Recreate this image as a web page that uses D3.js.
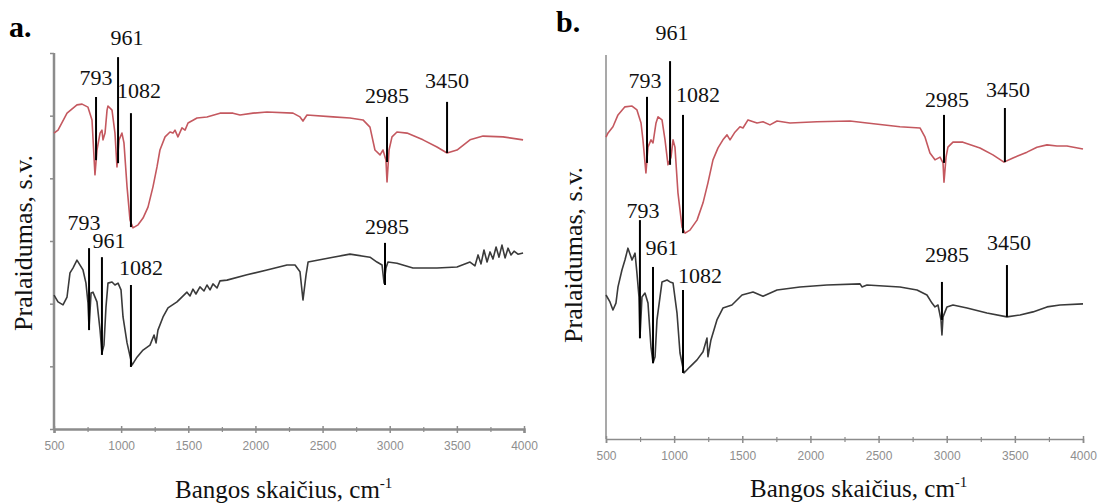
<!DOCTYPE html>
<html>
<head>
<meta charset="utf-8">
<script src="https://cdn.jsdelivr.net/npm/d3@7"></script>
<style>
  body { margin: 0; background: #fff; }
  svg { display: block; }
</style>
</head>
<body>
<svg id="chart" width="1102" height="504"></svg>
<script>
// spectra: [wavenumber cm-1, transmittance a.u.]
const redA = [[500,78.7],[530,79.5],[597,84.0],[671,86.2],[709,86.4],[753,85.6],[783,82.2],[805,67.6],[820,74.2],[843,78.7],[857,79.5],[865,76.9],[880,78.7],[895,84.8],[902,85.9],[932,84.8],[954,78.7],[969,69.7],[984,76.9],[1006,78.7],[1021,76.1],[1044,64.4],[1066,55.6],[1088,53.5],[1126,54.3],[1163,56.1],[1200,59.0],[1237,64.4],[1267,69.7],[1289,74.2],[1327,77.7],[1364,79.0],[1386,78.7],[1401,79.5],[1423,77.7],[1453,80.1],[1476,79.5],[1498,81.4],[1565,82.7],[1639,83.0],[1736,84.0],[1833,84.0],[1885,83.5],[1982,84.0],[2086,84.3],[2280,84.0],[2332,83.0],[2354,81.9],[2384,83.5],[2578,83.0],[2704,82.7],[2801,82.2],[2853,80.3],[2890,74.2],[2928,72.9],[2950,74.2],[2972,71.5],[2980,65.7],[2995,74.2],[3017,77.7],[3054,79.0],[3129,78.7],[3248,76.9],[3352,75.0],[3427,73.4],[3501,74.2],[3598,76.9],[3695,77.9],[3844,77.7],[3993,76.9]];

const blackA = [[500,35.6],[530,33.8],[567,33.0],[597,35.1],[619,41.5],[641,42.8],[671,44.9],[694,43.6],[716,42.3],[738,38.8],[753,33.5],[761,26.9],[776,36.2],[790,36.4],[820,33.8],[843,26.3],[857,20.2],[872,22.3],[887,32.4],[902,38.8],[932,39.1],[954,38.3],[977,38.8],[999,37.0],[1014,29.8],[1044,22.9],[1081,17.0],[1118,19.1],[1163,21.0],[1215,22.3],[1245,25.0],[1260,22.9],[1274,26.3],[1312,29.8],[1349,32.2],[1416,33.8],[1490,36.4],[1513,35.4],[1535,37.2],[1557,35.9],[1587,37.8],[1617,36.7],[1639,38.3],[1662,37.0],[1684,38.6],[1714,37.5],[1736,39.4],[1788,39.6],[1937,41.0],[2086,42.3],[2235,43.6],[2295,43.6],[2332,41.8],[2354,34.3],[2377,41.0],[2392,44.4],[2578,45.7],[2704,46.5],[2853,45.7],[2905,44.4],[2943,43.6],[2958,38.8],[2972,42.8],[2987,44.4],[3054,44.1],[3173,42.8],[3352,42.8],[3501,43.1],[3598,44.4],[3635,43.4],[3658,46.3],[3680,43.9],[3702,47.6],[3725,44.4],[3747,47.1],[3769,45.2],[3792,48.4],[3814,45.7],[3836,48.9],[3859,45.5],[3881,48.1],[3903,46.3],[3926,47.3],[3955,46.5],[3993,46.8]];

const redB = [[500,78.6],[515,79.7],[551,81.3],[588,84.4],[639,86.5],[691,86.7],[727,85.7],[757,82.3],[771,77.9],[793,69.3],[808,76.0],[830,77.9],[845,77.1],[867,82.3],[882,83.9],[911,83.1],[933,77.9],[955,71.4],[977,73.4],[992,77.9],[1006,76.0],[1028,64.1],[1058,55.2],[1080,53.6],[1116,54.4],[1168,57.0],[1212,61.5],[1248,66.7],[1285,72.7],[1322,75.8],[1358,77.9],[1388,79.2],[1410,77.9],[1446,79.9],[1483,81.3],[1505,81.0],[1542,83.1],[1608,82.3],[1652,82.6],[1703,81.8],[1755,82.8],[1850,82.3],[2048,82.6],[2290,82.8],[2415,82.3],[2657,81.3],[2804,81.0],[2841,78.6],[2877,74.5],[2914,72.7],[2951,73.4],[2973,71.9],[2980,66.9],[2995,73.4],[3009,76.0],[3046,77.3],[3119,77.3],[3244,75.8],[3339,74.0],[3420,72.1],[3486,73.2],[3589,74.7],[3662,76.0],[3736,76.6],[3809,76.3],[3882,76.3],[4000,75.5]];

const blackB = [[500,37.5],[529,35.7],[551,33.6],[573,35.4],[588,39.6],[617,44.0],[639,46.6],[661,49.7],[691,46.6],[713,48.4],[727,43.2],[742,37.0],[749,26.3],[764,37.0],[786,38.0],[808,35.4],[830,24.0],[845,19.8],[860,21.4],[874,31.0],[911,40.9],[948,41.4],[970,40.9],[992,40.6],[1021,32.8],[1043,22.4],[1072,17.2],[1116,18.8],[1168,20.6],[1212,22.7],[1241,26.3],[1248,21.4],[1270,25.8],[1314,31.0],[1358,34.1],[1424,34.9],[1498,37.5],[1579,38.3],[1652,37.2],[1755,38.8],[1923,39.6],[2121,40.1],[2364,40.4],[2378,39.6],[2415,40.1],[2657,39.6],[2782,38.8],[2855,37.5],[2892,35.4],[2914,34.4],[2936,34.9],[2958,31.0],[2965,27.1],[2973,31.8],[3002,34.4],[3046,34.9],[3149,34.1],[3295,32.8],[3442,31.8],[3538,32.3],[3633,33.1],[3736,34.4],[3831,34.9],[4000,35.2]];

// peak markers: label, drawn at wavenumber, line top / bottom (transmittance)
const peaksRedA = [["793",813,88.3,71.5],["961",977,98.9,70.7],["1082",1073,84.0,53.7],["2985",2980,83.0,71.0],["3450",3427,87.0,73.4]];
const peaksBlackA = [["793",761,48.1,26.3],["961",857,45.7,19.7],["1082",1073,38.3,16.5],["2985",2965,49.5,38.3]];
const peaksRedB = [["793",801,89.1,71.9],["961",970,98.4,71.4],["1082",1065,84.4,53.6],["2985",2980,84.4,71.9],["3450",3427,86.2,72.1]];
const peaksBlackB = [["793",749,57.0,26.3],["961",845,44.8,19.8],["1082",1065,38.8,17.2],["2985",2965,40.9,31.0],["3450",3442,45.3,31.8]];

const xTicks = [500,1000,1500,2000,2500,3000,3500,4000];
const xMinor = [750,1250,1750,2250,2750,3250,3750];
const yTicksA = [0,16.67,33.33,50,66.67,83.33,100];

const panelLetters = ["a.", "b."];
const xTitle = "Bangos skaičius, cm";
const yTitle = "Pralaidumas, s.v.";

const redColor = "#c4585f";
const blackColor = "#3a3a3a";
const axisColor = "#8c8c8c";

let svg = d3.select("#chart");

function drawPanel(opt) {
  let x = d3.scaleLinear().domain([500, 4000]).range([opt.left, opt.right]);
  let y = d3.scaleLinear().domain([0, 100]).range([opt.bottom, opt.top]);
  let g = svg.append("g");

  // x axis, major ticks cross the line
  let xAxis = g.append("g")
    .attr("transform", "translate(0," + opt.bottom + ")")
    .call(d3.axisBottom(x).tickValues(xTicks).tickSize(4).tickPadding(8).tickFormat(d3.format("d")));
  xAxis.selectAll(".tick line").attr("y1", -3).style("stroke", axisColor).style("stroke-width", 1.5);
  xAxis.select(".domain").style("stroke", axisColor).style("stroke-width", opt.axisWidth);
  xAxis.selectAll("text")
    .style("font-family", "Liberation Sans, Arial, sans-serif")
    .style("font-size", "12px")
    .style("fill", "#8e8e8e");

  let minor = g.append("g")
    .attr("transform", "translate(0," + opt.bottom + ")")
    .call(d3.axisBottom(x).tickValues(xMinor).tickSize(3).tickFormat(""));
  minor.select(".domain").remove();
  minor.selectAll(".tick line").attr("y1", -2).style("stroke", axisColor).style("stroke-width", 1.2);

  // y axis
  let yAxis = g.append("g")
    .attr("transform", "translate(" + opt.left + ",0)")
    .call(d3.axisLeft(y).tickValues(opt.yTicks).tickSize(opt.yTicks.length ? 4 : 0).tickFormat(""));
  yAxis.select(".domain").attr("d", "M0," + opt.bottom + "V" + opt.top)
    .style("stroke", axisColor).style("stroke-width", opt.axisWidth);
  yAxis.selectAll(".tick line").style("stroke", axisColor).style("stroke-width", 1.5);

  let line = d3.line().x(d => x(d[0])).y(d => y(d[1]));

  g.append("path")
    .datum(opt.red)
    .attr("d", line)
    .attr("fill", "none")
    .attr("stroke", redColor)
    .attr("stroke-width", 1.6)
    .attr("stroke-linejoin", "round");

  g.append("path")
    .datum(opt.black)
    .attr("d", line)
    .attr("fill", "none")
    .attr("stroke", blackColor)
    .attr("stroke-width", 1.6)
    .attr("stroke-linejoin", "round");

  // peak lines + labels
  let peaks = opt.peaksRed.concat(opt.peaksBlack);
  let nudges = opt.nudgeRed.concat(opt.nudgeBlack);
  peaks.forEach(function(p, i) {
    g.append("line")
      .attr("x1", x(p[1])).attr("x2", x(p[1]))
      .attr("y1", y(p[2])).attr("y2", y(p[3]))
      .style("stroke", "#000")
      .style("stroke-width", 2);
    g.append("text")
      .attr("x", x(p[1]) + nudges[i][0])
      .attr("y", y(p[2]) - nudges[i][1])
      .text(p[0])
      .style("font-family", "Liberation Serif, Times New Roman, serif")
      .style("font-size", "22px")
      .style("text-anchor", "middle")
      .style("fill", "#111");
  });

  // titles
  let xt = svg.append("text")
    .attr("x", opt.xTitleX)
    .attr("y", opt.xTitleY)
    .style("font-family", "Liberation Serif, Times New Roman, serif")
    .style("font-size", "25px")
    .style("fill", "#111")
    .text(xTitle);
  xt.append("tspan")
    .attr("dy", -10)
    .style("font-size", "15px")
    .text("-1");

  svg.append("text")
    .attr("transform", "translate(" + opt.yTitleX + "," + opt.yTitleY + ") rotate(-90)")
    .style("font-family", "Liberation Serif, Times New Roman, serif")
    .style("font-size", "26px")
    .style("text-anchor", "middle")
    .style("fill", "#111")
    .text(yTitle);

  svg.append("text")
    .attr("x", opt.letterX)
    .attr("y", opt.letterY)
    .style("font-family", "Liberation Serif, Times New Roman, serif")
    .style("font-size", "30px")
    .style("font-weight", "bold")
    .style("fill", "#000")
    .text(opt.letter);
}

drawPanel({
  left: 54, right: 524, top: 53, bottom: 429, axisWidth: 2.5,
  yTicks: yTicksA,
  red: redA, black: blackA,
  peaksRed: peaksRedA, peaksBlack: peaksBlackA,
  nudgeRed: [[0,12],[9,12],[8,15],[0,14],[0,14]],
  nudgeBlack: [[-5,18],[7,9],[10,10],[2,9]],
  xTitleX: 175, xTitleY: 498,
  yTitleX: 32, yTitleY: 243,
  letter: panelLetters[0], letterX: 9, letterY: 37
});

drawPanel({
  left: 606, right: 1083, top: 55, bottom: 439, axisWidth: 1.5,
  yTicks: [],
  red: redB, black: blackB,
  peaksRed: peaksRedB, peaksBlack: peaksBlackB,
  nudgeRed: [[-2,9],[2,21],[15,13],[3,8],[3,11]],
  nudgeBlack: [[3,2],[9,12],[17,7],[5,20],[2,15]],
  xTitleX: 750, xTitleY: 497,
  yTitleX: 582, yTitleY: 255,
  letter: panelLetters[1], letterX: 556, letterY: 32
});
</script>
</body>
</html>
